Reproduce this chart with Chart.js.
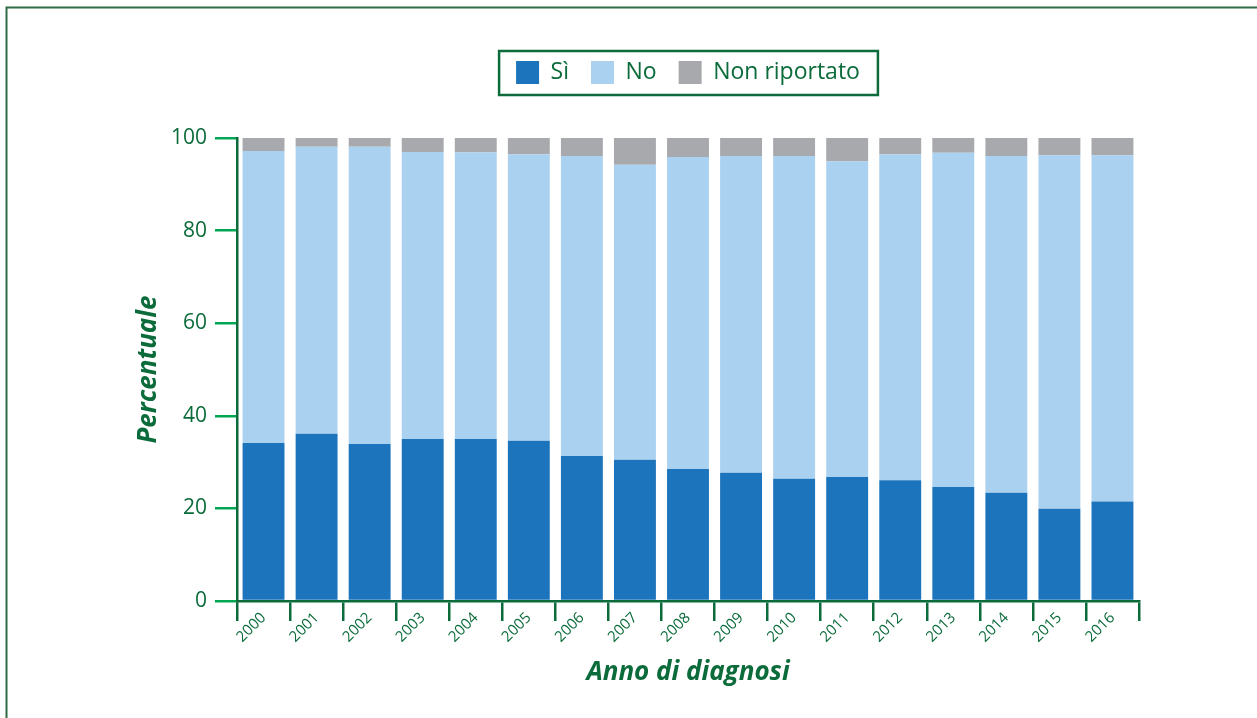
<!DOCTYPE html>
<html>
<head>
<meta charset="utf-8">
<script src="https://cdn.jsdelivr.net/npm/chart.js@4"></script>
<style>
  html, body { margin: 0; padding: 0; background: #fff; }
  #wrap { width: 1257px; height: 718px; }
</style>
</head>
<body>
<div id="wrap"><canvas id="chart-anno" width="1257" height="718"></canvas></div>
<script>
var anni = ["2000", "2001", "2002", "2003", "2004", "2005", "2006", "2007", "2008",
  "2009", "2010", "2011", "2012", "2013", "2014", "2015", "2016"];
var si = [34.1, 36.1, 33.9, 35.0, 35.0, 34.6, 31.3, 30.5, 28.5, 27.7, 26.4, 26.8, 26.1, 24.6, 23.4, 19.9, 21.5];
var no = [63.1, 62.0, 64.2, 62.0, 61.9, 61.9, 64.8, 63.7, 67.4, 68.4, 69.7, 68.2, 70.4, 72.2, 72.7, 76.4, 74.8];
var nonRiportato = [2.8, 1.9, 1.9, 3.0, 3.1, 3.5, 3.9, 5.8, 4.1, 3.9, 3.9, 5.0, 3.5, 3.2, 3.9, 3.7, 3.7];
var yTicks = [0, 20, 40, 60, 80, 100];

var VERDE = "#0b6b3a";
var VERDE_CHIARO = "#00a651";
var FONT = "'Open Sans', 'Noto Sans', sans-serif";

var ctx = document.getElementById("chart-anno").getContext("2d");

// frame + legend box + legend placement
var decorPlugin = {
  id: "decor",
  afterLayout: function (chart) {
    // centre legend over the plot area, not the whole canvas
    var lg = chart.legend;
    var shift = (chart.chartArea.left + chart.chartArea.right) / 2 - (lg.left + lg.right) / 2;
    lg.left += shift;
    lg.right += shift;
  },
  beforeDraw: function (chart) {
    var c = chart.ctx;
    c.save();
    c.strokeStyle = "#2f6b47";
    c.lineWidth = 2;
    c.beginPath();
    c.moveTo(6.5, 718);
    c.lineTo(6.5, 7.5);
    c.lineTo(1257, 7.5);
    c.stroke();
    c.restore();
  },
  afterDraw: function (chart) {
    var boxes = chart.legend.legendHitBoxes;
    if (!boxes || !boxes.length) return;
    var x0 = boxes[0].left, x1 = 0, y0 = boxes[0].top, y1 = 0;
    boxes.forEach(function (b) {
      x0 = Math.min(x0, b.left); x1 = Math.max(x1, b.left + b.width);
      y0 = Math.min(y0, b.top); y1 = Math.max(y1, b.top + b.height);
    });
    var c = chart.ctx;
    c.save();
    c.strokeStyle = VERDE;
    c.lineWidth = 2.5;
    c.strokeRect(x0 - 17, y0 - 10, (x1 - x0) + 35, (y1 - y0) + 21);
    c.restore();
  }
};

var data = {
  labels: anni,
  datasets: [
    { label: "Sì", data: si, backgroundColor: "#1c75bc", borderWidth: 0 },
    { label: "No", data: no, backgroundColor: "#abd1f0", borderWidth: 0 },
    { label: "Non riportato", data: nonRiportato, backgroundColor: "#a7a9ac", borderWidth: 0 }
  ]
};

var options = {
  responsive: false,
  animation: false,
  layout: { padding: { top: 39, left: 0, right: 118, bottom: 0 } },
  datasets: { bar: { barPercentage: 0.79, categoryPercentage: 1 } },
  plugins: {
    // empty title used as spacer between legend and plot
    title: {
      display: true,
      text: " ",
      weight: 500,
      position: "top",
      padding: 16,
      font: { size: 10 }
    },
    legend: {
      display: true,
      position: "top",
      labels: {
        boxWidth: 23,
        boxHeight: 23,
        padding: 22,
        color: VERDE,
        font: { size: 23, family: FONT }
      }
    },
    tooltip: { enabled: false }
  },
  scales: {
    x: {
      stacked: true,
      grid: {
        drawOnChartArea: false,
        offset: true,
        tickLength: 20,
        tickColor: VERDE,
        lineWidth: 2.5
      },
      border: { color: VERDE, width: 2.5 },
      ticks: {
        color: VERDE,
        minRotation: 45,
        maxRotation: 45,
        padding: -12,
        font: { size: 15, family: FONT }
      },
      title: {
        display: true,
        text: "Anno di diagnosi",
        color: VERDE,
        padding: { top: 0, bottom: 30 },
        font: { size: 26, weight: "bold", style: "italic", family: FONT }
      },
      afterFit: function (scale) { scale.height = 117; }
    },
    y: {
      stacked: true,
      min: 0,
      max: 100,
      grid: {
        drawOnChartArea: false,
        tickLength: 22,
        tickColor: VERDE_CHIARO,
        lineWidth: 2.5
      },
      border: { color: VERDE, width: 2.5 },
      afterBuildTicks: function (scale) {
        scale.ticks = yTicks.map(function (v) { return { value: v }; });
      },
      ticks: {
        color: VERDE,
        padding: 8,
        font: { size: 21, family: FONT }
      },
      title: {
        display: true,
        text: "Percentuale",
        color: VERDE,
        padding: { top: 133, bottom: 0 },
        font: { size: 26, weight: "bold", style: "italic", family: FONT }
      },
      afterFit: function (scale) { scale.width = 237; }
    }
  }
};

var myChart = new Chart(ctx, {
  type: "bar",
  data: data,
  options: options,
  plugins: [decorPlugin]
});
</script>
</body>
</html>
